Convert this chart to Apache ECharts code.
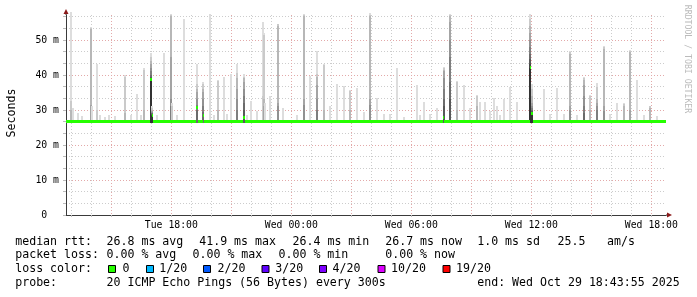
<!DOCTYPE html>
<html><head><meta charset="utf-8">
<script src="https://cdn.jsdelivr.net/npm/echarts@6/dist/echarts.min.js"></script>
<style>html,body{margin:0;padding:0;background:#fff}#c{width:697px;height:297px}</style>
</head><body><div id="c"></div>
<script>
// ---- time axis (hours since Tue 00:00) ----
const START = 12.7319, END = 42.7319;
const hourTicks = [13,14,15,16,17,18,19,20,21,22,23,24,25,26,27,28,29,30,31,32,33,34,35,36,37,38,39,40,41,42];
const xLabelHours = [18, 24, 30, 36, 42];
const xLabelTexts = ['Tue 18:00', 'Wed 00:00', 'Wed 06:00', 'Wed 12:00', 'Wed 18:00'];

// ---- value axis (ms) ----
const Y_MAX = 57.14;
const yTicks = [0,3.333,6.667,10,13.333,16.667,20,23.333,26.667,30,33.333,36.667,40,43.333,46.667,50,53.333,56.667];
const yLabelValues = [0, 10, 20, 30, 40, 50];
const yLabelTexts = ['0  ', '10 m', '20 m', '30 m', '40 m', '50 m'];

// ---- smoke: per step, highest pings (ms), outer band first ----
const spikeTime = [12.97,13.07,13.33,13.55,13.97,14.05,14.30,14.45,14.67,14.90,15.20,15.67,15.97,16.30,16.50,16.63,16.97,17.05,17.30,17.63,17.97,18.05,18.30,18.63,
  19.27,19.60,19.95,20.15,20.33,20.63,20.80,20.97,21.30,21.63,21.80,21.97,22.30,22.57,22.63,22.70,22.95,23.32,23.60,24.30,24.65,24.95,25.28,
  25.65,25.95,26.28,26.62,26.95,27.28,27.62,27.95,28.28,28.62,28.95,29.28,29.62,30.28,30.45,30.62,30.95,31.28,31.62,31.95,32.28,
  32.62,32.95,33.28,33.45,33.70,33.95,34.12,34.28,34.45,34.65,34.95,35.28,35.95,36.03,36.62,36.95,37.28,37.62,37.95,38.28,38.62,
  38.95,39.28,39.62,39.95,40.28,40.62,40.95,41.28,41.62,41.95,42.28];
const spikePings = [
  [57.9,32.6,30],[30.5],[29],[28.3],[53.6,53.4,53,31.5],[31],[43.1,30],[28.6],[28],[28.5],[28.4],[40,39.5,29],[28.5],[34.5],[28.6],[42.1,41.5,30],
  [46.4,45,44,43,42,41,40,39.5,39,38.8],[31,30.5,30,29.8,29.5,29.2,29,28.8,28.6,28.4],[28.5],[46.4],
  [57.5,57.2,56.8,45,33,31],[32,31],[28.7],[55.9],
  [43.1,37.5,36,35,33,31.5,30],[38,37.5,36,35,33,31,29.5],[57.5],[28.6],[38.6,38.2,30],[39.3],[28.8],[40.2],
  [43.1,40.5,39,36,33,30],[40.2,39.5,39,38,36,34,32,30],[28.6],[32.5],[29.8],[55,34],[52.1,51.5,33,31],[32],[34],
  [54.7,54.5,54,32,31],[30.7],[28.5],[57.5,57.2,56.8,33,31.5],[39.8],[46.9,40.2,39.5,37,33,30],
  [43.1,42.8,30],[31.2],[37.4],[36.8],[35.7,35.3,30],[36.3],[29.5],[57.6,57.2,56.8,33,31.5],[33.3],[28.8],[28.8],
  [42.1],[28],[37.1],[28.5],[32.2],[28.8],[30.7],[42.3,42,41.5,41,39,36,33,31],
  [57.5,57.2,56.9,55,50,45,38,33],[38.2,38,30],
  [37.2],[30.7],[34.3,34,31],[32.3],[32.3],[29.8],[33.3],[31.2],[28.7],[33.1],[36.6],[32.3],
  [57.5,56,54,52,50,48,46,44.5,43.2,42.1],[37.4,36,34,32,31,30.5,30,29.6,29.3,29],[36.1],[28.8],[36.3],[28.8],
  [46.9,46.5,46,31,30],[28.5],[39.3,39,38.5,37,34,31,29],[34.3,34,30],[37.6,36.5,33,32,31,30],
  [48.3,48,47.5,31,29.8],[28.8],[32],[32,31.8,31],[47.1,46.8,46.5,30],[38.5],[28.5],[31.1,31,30.5],[28.2]
];

// ---- median rtt: value holds from medianTime[i] to medianTime[i+1] ----
const medianTime = [12.73,13.5,14.2,15.0,15.8,16.93,17.01,17.09,18.3,19.23,19.31,19.56,19.64,20.6,21.59,21.67,22.5,23.6,24.8,
  26.0,27.2,28.4,29.5,30.6,31.57,31.65,32.8,34.0,35.91,35.99,36.07,37.2,38.4,40.3,41.5,42.73];
const medianValue = [26.6,26.8,26.6,26.7,26.6,38.8,28.3,26.7,26.6,30.8,26.8,28.3,26.7,26.8,27.9,26.6,26.7,26.6,26.8,
  26.6,26.7,26.6,26.7,26.6,27.9,26.7,26.6,26.8,42.1,29.0,26.7,26.6,26.8,26.6,26.8];

// ---- legend text ----
const statLabels = ['median rtt:', 'packet loss:', 'loss color:', 'probe:'];
const rttStats = ['26.8 ms avg', '41.9 ms max', '26.4 ms min', '26.7 ms now', '1.0 ms sd', '25.5', 'am/s'];
const lossStats = ['0.00 % avg', '0.00 % max', '0.00 % min', '0.00 % now'];
const lossColorLabels = ['0', '1/20', '2/20', '3/20', '4/20', '10/20', '19/20'];
const lossColors = ['#26ff00', '#00b8ff', '#0059ff', '#5e00ff', '#7e00ff', '#dd00ff', '#ff0000'];
const probeText = '20 ICMP Echo Pings (56 Bytes) every 300s';
const endText = 'end: Wed Oct 29 18:43:55 2025';

// ---- layout ----
const MONO = "'DejaVu Sans Mono', monospace";
const LEG_FONT = '11.6px ' + MONO;
const rowY = [241.5, 255.2, 268.9, 282.6];
const rttX = [106.5, 199.2, 292.5, 385.2, 477.2, 557.5, 607];
const lossX = [106.5, 192.5, 278.5, 385.2];
const boxX = [108.5, 146.5, 203.5, 262, 319.5, 378, 443];
const boxLabelX = [122.5, 159.2, 217.5, 275.2, 332.5, 391, 456];
const GRID_GRAY = '#cccccc', GRID_RED = '#e3a9a9';
const AXIS_COLOR = '#3a3a3a', ARROW_COLOR = '#8b1a1a';

const smokeData = [];
spikeTime.forEach((t, i) => spikePings[i].forEach((v, k) => smokeData.push([t, v, k])));
const medianData = medianValue.map((v, i) => [medianTime[i], medianTime[i + 1], v]);

const graphics = [];
function txt(x, y, s, font, fill, extra) {
  graphics.push(Object.assign({type: 'text', x: x, y: y, silent: true,
    style: {text: s, font: font || LEG_FONT, fill: fill || '#000', verticalAlign: 'middle', align: 'left'}}, extra || {}));
}
statLabels.forEach((s, i) => txt(15.2, rowY[i], s));
rttStats.forEach((s, i) => txt(rttX[i], rowY[0], s));
lossStats.forEach((s, i) => txt(lossX[i], rowY[1], s));
lossColorLabels.forEach((s, i) => {
  graphics.push({type: 'rect', silent: true, shape: {x: boxX[i], y: 265.5, width: 7, height: 7},
    style: {fill: lossColors[i], stroke: '#000', lineWidth: 1}});
  txt(boxLabelX[i], rowY[2], s);
});
txt(106.5, rowY[3], probeText);
txt(477.2, rowY[3], endText);
txt(11.5, 113, 'Seconds', LEG_FONT, '#000', {rotation: Math.PI / 2, style: {text: 'Seconds', font: LEG_FONT, fill: '#000', align: 'center', verticalAlign: 'middle'}});
txt(687, 59, 'RRDTOOL / TOBI OETIKER', '8.2px ' + MONO, '#bbbbbb', {rotation: -Math.PI / 2, style: {text: 'RRDTOOL / TOBI OETIKER', font: '8.2px ' + MONO, fill: '#bbbbbb', align: 'center', verticalAlign: 'middle'}});

const arrowAxis = {show: true, axisLine: {show: true, onZero: false, lineStyle: {color: ARROW_COLOR, width: 0},
  symbol: ['none', 'triangle'], symbolSize: [5, 5], symbolOffset: [0, 3.5]},
  axisTick: {show: false}, axisLabel: {show: false}, splitLine: {show: false}};

const SMOKE_BASE = 26.3;
const chart = echarts.init(document.getElementById('c'), null, {renderer: 'canvas'});
chart.setOption({
  backgroundColor: '#ffffff',
  animation: false,
  grid: {left: 66, top: 15, width: 600, height: 200, containLabel: false, outerBoundsMode: 'none'},
  xAxis: [{
    type: 'value', min: START, max: END,
    axisLine: {show: true, onZero: false, lineStyle: {color: AXIS_COLOR, width: 1},
      symbol: ['none', 'rect'], symbolSize: [1, 4], symbolOffset: [0, 2]},
    axisTick: {show: true, customValues: hourTicks, length: 2, lineStyle: {color: '#bbbbbb'}},
    axisLabel: {customValues: xLabelHours, color: '#000', fontFamily: MONO, fontSize: 9.8, margin: 5,
      formatter: v => xLabelTexts[xLabelHours.indexOf(v)] || ''},
    splitLine: {show: true, lineStyle: {color: [GRID_GRAY, GRID_GRAY, GRID_RED], width: 1, type: [1, 2]}}
  }, Object.assign({type: 'value', min: START, max: END, position: 'bottom'}, arrowAxis)],
  yAxis: [{
    type: 'value', min: 0, max: Y_MAX,
    axisLine: {show: true, onZero: false, lineStyle: {color: AXIS_COLOR, width: 1},
      symbol: ['none', 'rect'], symbolSize: [1, 4], symbolOffset: [0, 2]},
    axisTick: {show: true, customValues: yTicks, length: 3, lineStyle: {color: '#bbbbbb'}},
    axisLabel: {customValues: yLabelValues, color: '#000', fontFamily: MONO, fontSize: 9.8, margin: 7,
      formatter: v => { const i = yLabelValues.indexOf(v); return i >= 0 ? yLabelTexts[i] : ''; }},
    splitLine: {show: true, lineStyle: {color: [GRID_RED, GRID_GRAY, GRID_GRAY], width: 1, type: [1, 2]}}
  }, Object.assign({type: 'value', min: 0, max: Y_MAX, position: 'left'}, arrowAxis)],
  series: [
    {
      type: 'custom', silent: true, data: smokeData, encode: {x: 0, y: 1}, z: 2,
      renderItem: (params, api) => {
        const t = api.value(0), hi = api.value(1), k = api.value(2);
        const pTop = api.coord([t, hi]), pBot = api.coord([t, SMOKE_BASE]);
        const x = Math.round(pTop[0]) - 1, y0 = Math.round(pTop[1]), y1 = Math.round(pBot[1]);
        const g = 221 - 19 * k;
        return {type: 'rect', shape: {x: x, y: y0, width: 2, height: y1 - y0},
          style: {fill: 'rgb(' + g + ',' + g + ',' + g + ')'}};
      }
    },
    {
      type: 'custom', silent: true, data: medianData, encode: {x: [0, 1], y: 2}, z: 3,
      renderItem: (params, api) => {
        const a = api.coord([api.value(0), api.value(2)]), b = api.coord([api.value(1), api.value(2)]);
        const x0 = Math.round(a[0]), x1 = Math.round(b[0]);
        return {type: 'rect', shape: {x: x0, y: Math.round(a[1] - 1.5), width: Math.max(1, x1 - x0), height: 3},
          style: {fill: '#26ff00'}};
      }
    }
  ],
  graphic: graphics
});
</script></body></html>
